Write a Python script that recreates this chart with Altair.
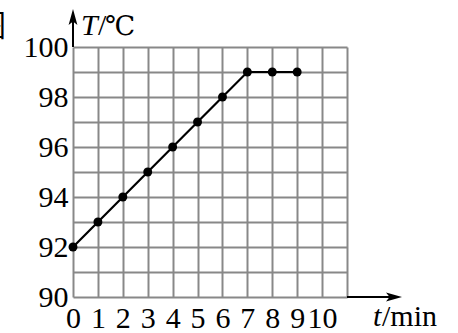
import altair as alt
import pandas as pd

# data
t_vals = [0, 1, 2, 3, 4, 5, 6, 7, 8, 9]
T_vals = [92, 93, 94, 95, 96, 97, 98, 99, 99, 99]
x_grid = list(range(0, 12))
y_grid = list(range(90, 101))

df = pd.DataFrame({"t": t_vals, "T": T_vals})
one = pd.DataFrame({"a": [0]})

FONT = "Liberation Serif"
GRID = "#888888"

xscale = alt.Scale(domain=[0, 11], nice=False, zero=False)
yscale = alt.Scale(domain=[90, 100], nice=False, zero=False)

xaxis = alt.Axis(values=x_grid, grid=True, gridColor=GRID, gridWidth=2, gridOpacity=1,
                 domain=False, ticks=False, labelExpr="datum.value <= 10 ? datum.label : ''",
                 labelFont=FONT, labelFontSize=30, labelColor="black", labelPadding=6,
                 labelFlush=False, labelOverlap=False, labelBound=False, title=None)
yaxis = alt.Axis(values=y_grid, grid=True, gridColor=GRID, gridWidth=2, gridOpacity=1,
                 domain=False, ticks=False, labelExpr="datum.value % 2 == 0 ? datum.label : ''",
                 labelFont=FONT, labelFontSize=30, labelColor="black", labelPadding=5,
                 labelFlush=False, labelOverlap=False, labelBound=False, title=None)

base = alt.Chart(df).encode(
    x=alt.X("t:Q", scale=xscale, axis=xaxis),
    y=alt.Y("T:Q", scale=yscale, axis=yaxis),
)
line = base.mark_line(color="black", strokeWidth=2.2)
points = base.mark_point(filled=True, color="black", size=80, opacity=1)

ann = alt.Chart(one)
y_arrow_line = ann.mark_rule(color="black", strokeWidth=2).encode(
    x=alt.value(0), y=alt.value(0), y2=alt.value(-28))
y_arrow_head = ann.mark_point(filled=True, color="black", opacity=1, size=256,
                              shape="M0,-1L0.55,1L0,0.55L-0.55,1Z").encode(
    x=alt.value(0), y=alt.value(-30))
x_arrow_line = ann.mark_rule(color="black", strokeWidth=2).encode(
    x=alt.value(274), x2=alt.value(322), y=alt.value(250))
x_arrow_head = ann.mark_point(filled=True, color="black", opacity=1, size=256,
                              shape="M1,0L-1,-0.55L-0.55,0L-1,0.55Z").encode(
    x=alt.value(321), y=alt.value(250))

T_italic = ann.mark_text(text="T", font=FONT, fontSize=30, fontStyle="italic",
                         align="left", baseline="alphabetic", color="black").encode(
    x=alt.value(8), y=alt.value(-12))
T_slash = ann.mark_text(text="/", font=FONT, fontSize=30,
                        align="left", baseline="alphabetic", color="black").encode(
    x=alt.value(25), y=alt.value(-12))
T_unit = ann.mark_text(text="℃", font="DejaVu Serif", fontSize=27,
                       align="left", baseline="alphabetic", color="black").encode(
    x=alt.value(32), y=alt.value(-12))
t_italic = ann.mark_text(text="t", font=FONT, fontSize=30, fontStyle="italic",
                         align="left", baseline="alphabetic", color="black").encode(
    x=alt.value(300), y=alt.value(279))
t_unit = ann.mark_text(text="/min", font=FONT, fontSize=30,
                       align="left", baseline="alphabetic", color="black").encode(
    x=alt.value(309), y=alt.value(279))
fig_char = ann.mark_text(text="图", font="Noto Sans CJK SC", fontSize=30,
                         align="right", baseline="alphabetic", color="black").encode(
    x=alt.value(-67), y=alt.value(-11))

chart = alt.layer(
    line, points, y_arrow_line, y_arrow_head, x_arrow_line, x_arrow_head,
    T_italic, T_slash, T_unit, t_italic, t_unit, fig_char
).properties(
    width=274, height=250,
    autosize=alt.AutoSizeParams(type="none"),
    padding={"left": 73, "top": 47, "right": 111, "bottom": 36},
    background="white",
).configure_view(strokeWidth=0)

chart.save("out.html", embed_options={"renderer": "svg", "actions": False})
